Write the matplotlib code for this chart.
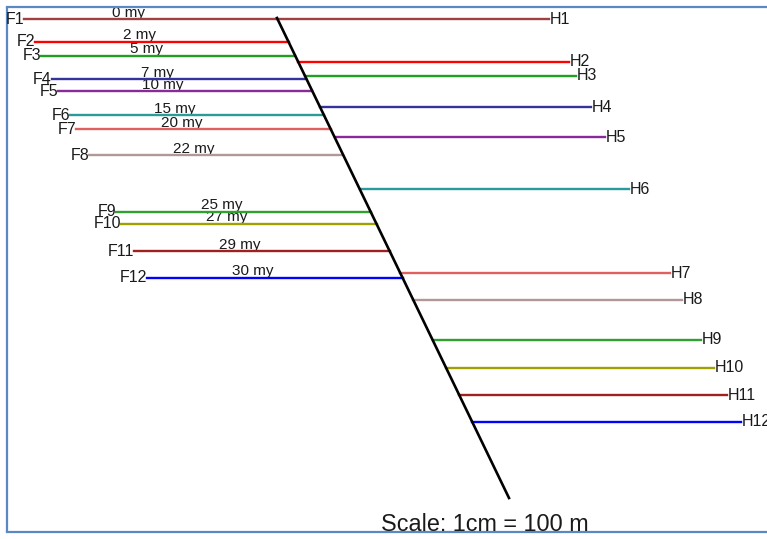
"""Normal fault cross-section: footwall (F) and hanging-wall (H) horizons."""

import matplotlib

matplotlib.use("Agg")
import matplotlib.pyplot as plt  # noqa: E402
import numpy as np

# horizon ages (million years)
AGES = [0, 2, 5, 7, 10, 15, 20, 22, 25, 27, 29, 30]
FW_NAMES = [f"F{i}" for i in range(1, 13)]
HW_NAMES = [f"H{i}" for i in range(1, 13)]
# footwall horizons: depth and western end (drawing units, 1 unit = 1 px)
FW_DEPTH = [19, 42, 56, 79, 91, 115, 129, 155, 212, 224, 251, 278]
FW_WEST = [24, 35, 41, 52, 58, 70, 76, 89, 116, 121, 134, 147]
# hanging-wall horizons: depth and eastern end
HW_DEPTH = [19, 62, 76, 107, 137, 189, 273, 300, 340, 368, 395, 422]
HW_EAST = [549, 569, 576, 591, 605, 629, 670, 682, 701, 714, 727, 741]
# fault trace: (x, depth) at top and bottom
FAULT_X = [277, 509]
FAULT_DEPTH = [18, 498]

COLORS = [
    "#a04040", "#ff0000", "#20a020", "#333399", "#8a2a9a", "#2a9a9a",
    "#e06060", "#b09898", "#30a030", "#a0a000", "#a02020", "#0000ff",
]

FONT = "Liberation Sans"
BORDER = "#5b87c5"
TEXT = "#1a1a1a"

plt.rcParams.update({"font.family": FONT})

fig = plt.figure(figsize=(7.67, 5.39), dpi=100)
ax = fig.add_axes([0, 0, 1, 1])
ax.set_xlim(0, 767)
ax.set_ylim(539, 0)
ax.axis("off")

# frame
ax.plot([7, 7], [7, 532], color=BORDER, lw=1.6, solid_capstyle="butt")
ax.plot([7, 767], [7, 7], color=BORDER, lw=1.6)
ax.plot([7, 767], [532, 532], color=BORDER, lw=1.6)


def fault_x(depth):
    return np.interp(depth, FAULT_DEPTH, FAULT_X)


for i, age in enumerate(AGES):
    c = COLORS[i]
    # footwall
    fd = FW_DEPTH[i]
    fx = fault_x(fd)
    ax.plot([FW_WEST[i], fx], [fd, fd], color=c, lw=1.7, zorder=2)
    ax.text(FW_WEST[i], fd, FW_NAMES[i], ha="right", va="center",
            fontsize=11.5, color=TEXT)
    mid = (FW_WEST[i] + fx) / 2 - 22
    ax.text(mid, fd - 2.5, f"{age} my", ha="center", va="baseline",
            fontsize=11, color=TEXT, zorder=1)
    # hanging wall
    hd = HW_DEPTH[i]
    hx = fault_x(hd)
    ax.plot([hx, HW_EAST[i]], [hd, hd], color=c, lw=1.7, zorder=2)
    ax.text(HW_EAST[i] + 1, hd, HW_NAMES[i], ha="left", va="center",
            fontsize=11.5, color=TEXT)

# fault
ax.plot(FAULT_X, FAULT_DEPTH, color="black", lw=1.9, zorder=3)

ax.text(485, 531, "Scale: 1cm = 100 m", ha="center", va="baseline",
        fontsize=16.8, color=TEXT)

fig.savefig("out.png", dpi=100, facecolor="white")
